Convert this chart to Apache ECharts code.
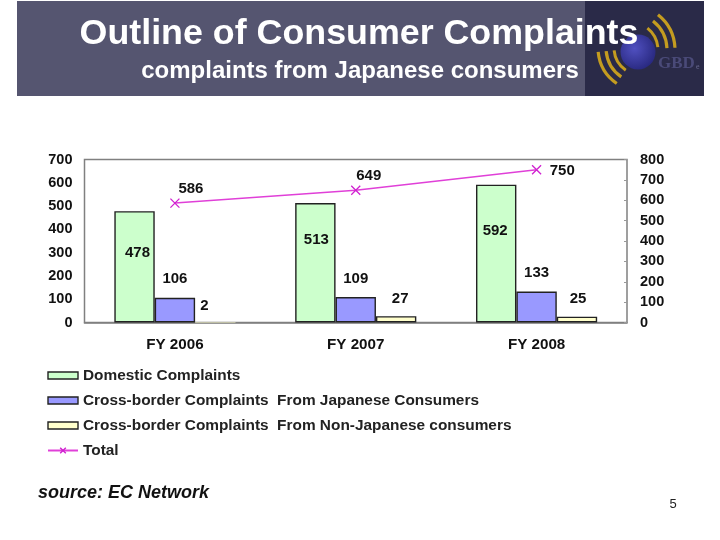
<!DOCTYPE html>
<html><head><meta charset="utf-8">
<style>html,body{margin:0;padding:0;background:#fff}#c{width:720px;height:540px}</style>
<script src="https://cdn.jsdelivr.net/npm/echarts@6/dist/echarts.min.js"></script>
</head><body><div id="c"></div>
<script>
const categories = ['FY 2006','FY 2007','FY 2008'];
const domestic = [478,513,592];
const crossJapanese = [106,109,133];
const crossNonJapanese = [2,27,25];
const total = [586,649,750];
const names = ['Domestic Complaints','Cross-border Complaints  From Japanese Consumers','Cross-border Complaints  From Non-Japanese consumers','Total'];
const F = 'Liberation Sans';
const lab = {fontFamily:F,fontWeight:'bold',fontSize:15,color:'#111'};
const arc = (cx,cy,r,a0,a1,w)=>({type:'arc',silent:true,shape:{cx,cy,r,startAngle:a0,endAngle:a1},style:{stroke:'#c49c20',lineWidth:w,fill:null}});
const barStyle = c=>({color:c,borderColor:'#222',borderWidth:1.4});
const chart = echarts.init(document.getElementById('c'),null,{renderer:'canvas'});
chart.setOption({
  animation:false,
  backgroundColor:'#fff',
  grid:{left:84.5,right:93,top:159.5,bottom:217.5,show:true,borderColor:'#808080',borderWidth:1.5,backgroundColor:'#fff'},
  legend:{orient:'vertical',left:42,top:363,itemWidth:30,itemHeight:7,itemGap:10,itemStyle:{borderWidth:1.4},
    textStyle:{fontFamily:F,fontWeight:'bold',fontSize:15.4,color:'#222'},
    data:[{name:names[0],icon:'rect'},{name:names[1],icon:'rect'},{name:names[2],icon:'rect'},{name:names[3]}]},
  xAxis:{type:'category',data:categories,axisLine:{lineStyle:{color:'#808080',width:1.5}},
    axisTick:{inside:true,length:3,lineStyle:{color:'#999'}},axisLabel:{...lab,fontSize:15.2,margin:15}},
  yAxis:[
    {type:'value',min:0,max:700,interval:100,splitLine:{show:false},axisLine:{show:false},axisTick:{show:false},axisLabel:{...lab,fontSize:14.5,margin:12}},
    {type:'value',min:0,max:800,interval:100,splitLine:{show:false},axisLine:{show:false},axisTick:{show:true,inside:true,length:3,lineStyle:{color:'#999'}},axisLabel:{...lab,fontSize:14.5,margin:13}}
  ],
  series:[
    {name:names[0],type:'bar',yAxisIndex:0,barGap:0,barCategoryGap:'33%',itemStyle:barStyle('#ccffcc'),
     data:domestic.map((v,i)=>({value:v,label:{show:true,position:'insideTop',...lab,distance:[33,29,39][i],offset:[[3,1],[1,0],[-1,0]][i]}}))},
    {name:names[1],type:'bar',yAxisIndex:0,itemStyle:barStyle('#9999ff'),
     data:crossJapanese.map(v=>({value:v,label:{show:true,position:'top',...lab,distance:11}}))},
    {name:names[2],type:'bar',yAxisIndex:0,itemStyle:barStyle('#ffffcc'),
     data:crossNonJapanese.map((v,i)=>({value:v,itemStyle:v<5?{borderWidth:0}:undefined,label:{show:true,position:'top',...lab,distance:10,offset:[[-11,1],[4,0],[1,0]][i]}}))},
    {name:names[3],type:'line',yAxisIndex:1,symbol:'path://M0,0L10,10M10,0L0,10',symbolSize:9,showSymbol:true,
     lineStyle:{color:'#e040d8',width:1.5},itemStyle:{color:'#fff',borderColor:'#d020d0',borderWidth:1.3},
     data:total.map((v,i)=>({value:v,label:{show:true,position:i===2?'right':'top',...lab,distance:i===2?8:2,offset:[[16,0],[13,0],[0,1]][i]}}))}
  ],
  graphic:[
    {type:'rect',silent:true,z:-10,shape:{x:17,y:1,width:687,height:95},style:{fill:'#555570'}},
    {type:'rect',silent:true,z:-9,shape:{x:585,y:1,width:119,height:95},style:{fill:'#2a2a48'}},
    arc(630,50,28,-0.9,-0.1,3),arc(630,50,37,-0.9,-0.05,3.2),arc(630,50,45,-0.9,-0.05,3.2),
    arc(641,48,27,2.17,3.05,3),arc(641,48,35,2.17,3.05,3.2),arc(641,48,43,2.17,3.05,3.2),
    {type:'circle',silent:true,shape:{cx:638,cy:52,r:17.5},style:{fill:{type:'radial',x:0.4,y:0.4,r:0.7,colorStops:[{offset:0,color:'#5050c0'},{offset:1,color:'#25257a'}]}}},
    {type:'text',silent:true,style:{x:658,y:64,text:'GBD',fill:'#4a4a78',font:'bold 17px "Liberation Serif"',textVerticalAlign:'middle'}},
    {type:'text',silent:true,style:{x:696,y:67,text:'e',fill:'#6a6a90',font:'8px "Liberation Serif"',textVerticalAlign:'middle'}},
    {type:'text',silent:true,z:20,style:{x:359,y:34,text:'Outline of Consumer Complaints',fill:'#fff',font:'bold 35.8px "Liberation Sans"',textAlign:'center',textVerticalAlign:'middle'}},
    {type:'text',silent:true,z:20,style:{x:360,y:71,text:'complaints from Japanese consumers',fill:'#fff',font:'bold 24px "Liberation Sans"',textAlign:'center',textVerticalAlign:'middle'}},
    {type:'text',silent:true,style:{x:38,y:493,text:'source: EC Network',fill:'#111',font:'italic bold 18px "Liberation Sans"',textVerticalAlign:'middle'}},
    {type:'text',silent:true,style:{x:673,y:504,text:'5',fill:'#222',font:'13px "Liberation Sans"',textAlign:'center',textVerticalAlign:'middle'}}
  ]
});
</script></body></html>
